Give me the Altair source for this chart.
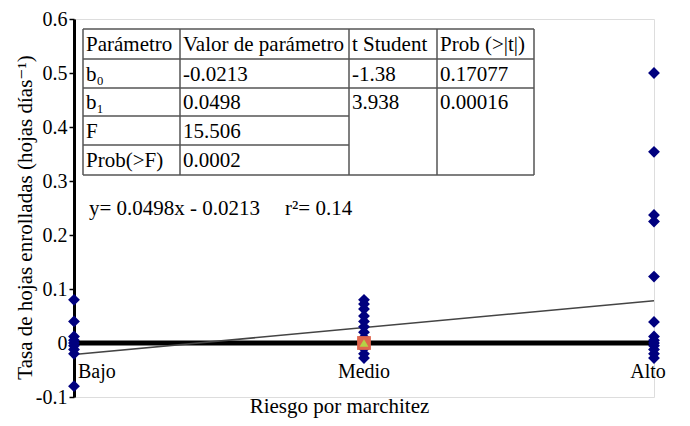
import altair as alt
import pandas as pd

# ---------------- data ----------------
categories = ["Bajo", "Medio", "Alto"]
bajo = [0.08, 0.04, 0.012, 0.005, 0.0, -0.005, -0.012, -0.02, -0.08]
medio = [0.08, 0.072, 0.063, 0.05, 0.04, 0.03, 0.02, 0.01, 0.0, -0.01, -0.02, -0.028]
alto = [0.50, 0.354, 0.237, 0.225, 0.123, 0.039, 0.012, 0.005, 0.0, -0.005, -0.012, -0.02, -0.028]
b0 = -0.0213
b1 = 0.0498
medio_mean = 0.0

table_header = ["Parámetro", "Valor de parámetro", "t Student", "Prob (>|t|)"]
table_rows = [
    ["b₀", "-0.0213", "-1.38", "0.17077"],
    ["b₁", "0.0498", "3.938", "0.00016"],
    ["F", "15.506", "", ""],
    ["Prob(>F)", "0.0002", "", ""],
]
equation = "y= 0.0498x - 0.0213"
r2_text = "r²= 0.14"

# ---------------- layout ----------------
W, H = 580, 378
XMIN, XMAX = 0, 2
YMIN, YMAX = -0.1, 0.6
FONT = "Times New Roman, Liberation Serif, DejaVu Serif, serif"


def px2x(px):
    return XMIN + px / W * (XMAX - XMIN)


def py2y(py):
    return YMAX - py / H * (YMAX - YMIN)


xs = alt.Scale(domain=[XMIN, XMAX], nice=False, zero=False)
ys = alt.Scale(domain=[YMIN, YMAX], nice=False, zero=False)

rows = []
for i, vals in enumerate([bajo, medio, alto]):
    for v in vals:
        rows.append({"x": i, "y": v, "cat": categories[i]})
pts_df = pd.DataFrame(rows)

base_x = alt.X("x:Q", scale=xs, title="Riesgo por marchitez",
               axis=alt.Axis(labels=False, ticks=False, domain=False, grid=False,
                             titleFont=FONT, titleFontSize=21, titleFontWeight="normal",
                             titleColor="black", titleX=265, titleY=15,
                             titleBaseline="alphabetic", titleAlign="center"))
base_y = alt.Y("y:Q", scale=ys, title="Tasa de hojas enrolladas (hojas días⁻¹)",
               axis=alt.Axis(values=[-0.1, 0, 0.1, 0.2, 0.3, 0.4, 0.5, 0.6],
                             labelExpr="datum.value == 0 ? '0' : (datum.value < 0 ? '-' + format(-datum.value, '.1f') : format(datum.value, '.1f'))",
                             labelFont=FONT, labelFontSize=20, labelColor="black",
                             tickColor="black", tickSize=5, tickWidth=1.5,
                             domainColor="black", domainWidth=3, grid=False,
                             titleFont=FONT, titleFontSize=21, titleFontWeight="normal",
                             titleColor="black", titlePadding=0, titleY=198))

# zero line
zero = alt.Chart(pd.DataFrame({"y": [0.0]})).mark_rule(color="black", strokeWidth=5).encode(
    y=alt.Y("y:Q", scale=ys))

# regression line
reg_df = pd.DataFrame({"x": [XMIN, XMAX], "y": [b0 + b1 * XMIN, b0 + b1 * XMAX]})
reg = alt.Chart(reg_df).mark_line(color="#444444", strokeWidth=1.5).encode(
    x=alt.X("x:Q", scale=xs), y=alt.Y("y:Q", scale=ys))

points = alt.Chart(pts_df).mark_point(shape="diamond", filled=True, color="#00007f",
                                      size=140, opacity=1).encode(x=base_x, y=base_y)

mean_df = pd.DataFrame({"x": [1], "y": [medio_mean]})
mean_sq = alt.Chart(mean_df).mark_point(shape="square", filled=True, color="#e0654d",
                                        size=190, opacity=1).encode(
    x=alt.X("x:Q", scale=xs), y=alt.Y("y:Q", scale=ys))
mean_tri = alt.Chart(mean_df).mark_point(shape="triangle-up", filled=True, color="#b4d246",
                                         size=80, opacity=1).encode(
    x=alt.X("x:Q", scale=xs), y=alt.Y("y:Q", scale=ys))

# category labels
cat_layers = []
aligns = ["left", "center", "center"]
dxs = [4, 0, -6]
for i, c in enumerate(categories):
    d = pd.DataFrame({"x": [i], "y": [py2y(353)], "t": [c]})
    cat_layers.append(
        alt.Chart(d).mark_text(font=FONT, fontSize=20, color="black", align=aligns[i],
                               baseline="middle", dx=dxs[i]).encode(
            x=alt.X("x:Q", scale=xs), y=alt.Y("y:Q", scale=ys), text="t:N"))

# table
col_px = [9, 106, 275, 363, 460]
row_px = [10, 40, 69, 97, 126, 156]
cells = []
all_rows = [table_header] + table_rows
for r, rv in enumerate(all_rows):
    for c, txt in enumerate(rv):
        if txt:
            cells.append({"x": px2x(col_px[c] + 3), "y": py2y((row_px[r] + row_px[r + 1]) / 2 + 1), "t": txt})
cells_df = pd.DataFrame(cells)
table_text = alt.Chart(cells_df).mark_text(font=FONT, fontSize=21, color="black", align="left",
                                           baseline="middle").encode(
    x=alt.X("x:Q", scale=xs), y=alt.Y("y:Q", scale=ys), text="t:N")

segs = []
for r, yp in enumerate(row_px):
    x_end = col_px[4] if r in (0, 1, 2, 5) else col_px[2]
    segs.append({"x": px2x(col_px[0]), "x2": px2x(x_end), "y": py2y(yp), "y2": py2y(yp)})
for xp in col_px:
    segs.append({"x": px2x(xp), "x2": px2x(xp), "y": py2y(row_px[0]), "y2": py2y(row_px[-1])})
segs_df = pd.DataFrame(segs)
table_lines = alt.Chart(segs_df).mark_rule(color="#555555", strokeWidth=1.5).encode(
    x=alt.X("x:Q", scale=xs), x2="x2:Q", y=alt.Y("y:Q", scale=ys), y2="y2:Q")

eq_df = pd.DataFrame({"x": [px2x(15), px2x(211)], "y": [py2y(190), py2y(190)], "t": [equation, r2_text]})
eq = alt.Chart(eq_df).mark_text(font=FONT, fontSize=21, color="black", align="left",
                                baseline="middle").encode(
    x=alt.X("x:Q", scale=xs), y=alt.Y("y:Q", scale=ys), text="t:N")

chart = alt.layer(
    points.mark_point(opacity=0), zero, reg, points, mean_sq, mean_tri, *cat_layers,
    table_lines, table_text, eq
).properties(
    width=W, height=H,
    autosize=alt.AutoSizeParams(type="none"),
    padding={"left": 66, "top": 11, "right": 20, "bottom": 21},
).configure_view(stroke="black", strokeWidth=2.5).configure(background="white")

chart.save("out.html", embed_options={"renderer": "svg", "actions": False})
